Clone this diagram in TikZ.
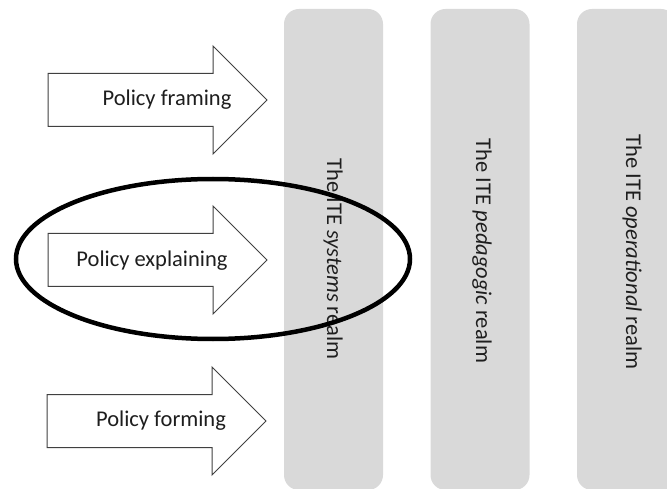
\documentclass[tikz,border=0pt]{standalone}
\usepackage{fontspec}
\setmainfont{Carlito}
\begin{document}
\definecolor{realmfill}{HTML}{D9D9D9}
\definecolor{arrowedge}{HTML}{404040}
\definecolor{inktext}{HTML}{1E1E1E}
\begin{tikzpicture}[x=1pt,y=-1pt,
  realm/.style={fill=realmfill,draw=none,rounded corners=15pt,
    minimum width=99pt,minimum height=481pt,inner sep=0pt},
  realmlabel/.style={rotate=-90,text=inktext,inner sep=0pt,
    font=\fontsize{22.5}{27}\selectfont},
  policylabel/.style={text=inktext,inner sep=0pt,
    font=\fontsize{22.5}{27}\selectfont},
  arrowline/.style={draw=arrowedge,line width=1pt,fill=white,line join=miter},
  policyarrow/.pic={
    \draw[arrowline] (0,-26.5) -- (165,-26.5) -- (165,-54) -- (219,0)
      -- (165,54) -- (165,26.5) -- (0,26.5) -- cycle;
  },
  focus/.style={draw=black,line width=4.5pt}
]
\useasboundingbox (0,0) rectangle (667,489);

% the three realm columns
\node[realm] (systems)     at (333.5,249.5) {};
\node[realm] (pedagogic)   at (480,249.5) {};
\node[realm] (operational) at (626.5,249.5) {};

\node[realmlabel] (systemsT)     at (333,259) {The ITE \textit{systems} realm};
\node[realmlabel] (pedagogicT)   at (482,251) {The ITE \textit{pedagogic} realm};
\node[realmlabel] (operationalT) at (632,252) {The ITE \textit{operational} realm};

% policy arrows
\pic at (48,100) {policyarrow};
\pic at (48,260) {policyarrow};
\pic at (47,421) {policyarrow};

\node[policylabel] (framing)    at (167,100) {Policy framing};
\node[policylabel] (explaining) at (152,261) {Policy explaining};
\node[policylabel] (forming)    at (161,421) {Policy forming};

% emphasis ring round the explaining arrow
\draw[focus] (213,259) ellipse [x radius=197, y radius=80];
\end{tikzpicture}
\end{document}
